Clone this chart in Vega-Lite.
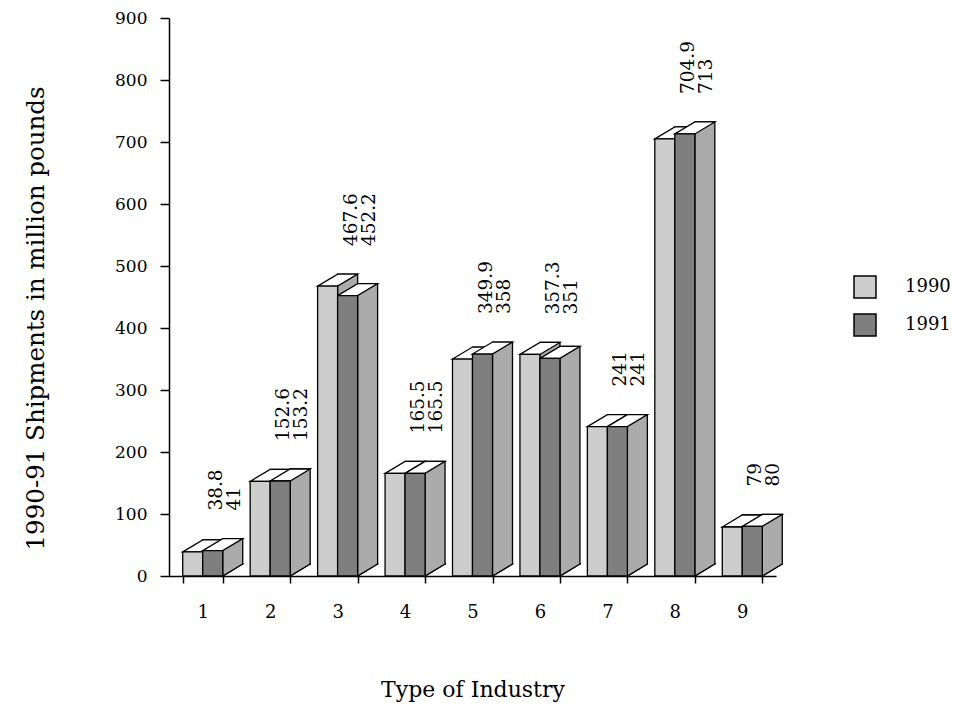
{
  "$schema": "https://vega.github.io/schema/vega-lite/v6.json",
  "width": 607,
  "height": 558,
  "autosize": {"type": "none"},
  "padding": {"left": 169, "top": 18, "right": 177, "bottom": 129},
  "background": "white",
  "config": {
    "font": "DejaVu Serif",
    "view": {"stroke": null},
    "axis": {"domainColor": "black", "tickColor": "black", "labelColor": "black", "titleColor": "black", "domainWidth": 1.5, "tickWidth": 1.5, "grid": false}
  },
  "data": {
    "values": [
      {"industry": "1", "year": "1990", "value": 38.8},
      {"industry": "1", "year": "1991", "value": 41},
      {"industry": "2", "year": "1990", "value": 152.6},
      {"industry": "2", "year": "1991", "value": 153.2},
      {"industry": "3", "year": "1990", "value": 467.6},
      {"industry": "3", "year": "1991", "value": 452.2},
      {"industry": "4", "year": "1990", "value": 165.5},
      {"industry": "4", "year": "1991", "value": 165.5},
      {"industry": "5", "year": "1990", "value": 349.9},
      {"industry": "5", "year": "1991", "value": 358},
      {"industry": "6", "year": "1990", "value": 357.3},
      {"industry": "6", "year": "1991", "value": 351},
      {"industry": "7", "year": "1990", "value": 241},
      {"industry": "7", "year": "1991", "value": 241},
      {"industry": "8", "year": "1990", "value": 704.9},
      {"industry": "8", "year": "1991", "value": 713},
      {"industry": "9", "year": "1990", "value": 79},
      {"industry": "9", "year": "1991", "value": 80}
    ]
  },
  "encoding": {
    "x": {
      "field": "industry",
      "type": "ordinal",
      "scale": {"paddingInner": 0.4069, "paddingOuter": 0.2035},
      "axis": {
        "title": "Type of Industry",
        "labelAngle": 0,
        "tickBand": "extent",
        "tickSize": 7,
        "labelPadding": 20,
        "labelFontSize": 18,
        "titleFontSize": 22,
        "titleFontWeight": "normal",
        "titlePadding": 58
      }
    }
  },
  "resolve": {"scale": {"xOffset": "independent"}, "legend": {"shape": "independent", "fill": "independent"}},
  "layer": [
    {
      "mark": {"type": "bar", "fill": "#ababab", "stroke": "black", "strokeWidth": 1.3, "yOffset": -12, "y2Offset": -12},
      "encoding": {
        "xOffset": {"field": "year", "type": "nominal", "scale": {"range": [20, 60], "paddingInner": 0, "paddingOuter": 0}},
        "y": {
          "field": "value",
          "type": "quantitative",
          "scale": {"domain": [0, 900], "nice": false},
          "axis": {
            "title": "1990-91 Shipments in million pounds",
            "values": [0, 50, 100, 150, 200, 250, 300, 350, 400, 450, 500, 550, 600, 650, 700, 750, 800, 850, 900],
            "labelExpr": "datum.value % 100 === 0 ? datum.label : ''",
            "tickSize": {"condition": {"test": "datum.value % 100 === 0", "value": 9}, "value": 4},
            "labelPadding": 13,
            "labelFontSize": 17,
            "titleFontSize": 24.5,
            "titleFontWeight": "normal",
            "titlePadding": 66,
            "titleY": 300
          }
        }
      }
    },
    {
      "mark": {"type": "point", "shape": "M 20 -13 L 20 0 L 40 -12 L 40 -13", "size": 4, "filled": true, "fill": "#ababab", "stroke": "black", "strokeWidth": 1.3, "opacity": 1},
      "encoding": {
        "y": {"datum": 0, "type": "quantitative"}
      }
    },
    {
      "transform": [{"calculate": "datum.year", "as": "face"}],
      "mark": {"type": "point", "size": 4, "filled": true, "fill": "white", "stroke": "black", "strokeWidth": 1.3, "opacity": 1},
      "encoding": {
        "y": {"field": "value", "type": "quantitative"},
        "shape": {
          "field": "face",
          "type": "nominal",
          "scale": {"domain": ["1990", "1991"], "range": ["M -20 0 L 0 0 L 20 -12 L 0 -12 Z", "M 0 0 L 20 0 L 40 -12 L 20 -12 Z"]},
          "legend": null
        }
      }
    },
    {
      "mark": {"type": "bar", "stroke": "black", "strokeWidth": 1.3},
      "encoding": {
        "xOffset": {"field": "year", "type": "nominal", "scale": {"paddingInner": 0, "paddingOuter": 0}},
        "y": {"field": "value", "type": "quantitative"},
        "fill": {
          "field": "year",
          "type": "nominal",
          "scale": {"domain": ["1990", "1991"], "range": ["#cdcdcd", "#7f7f7f"]},
          "legend": {
            "title": null,
            "orient": "none",
            "legendX": 684,
            "legendY": 257,
            "symbolType": "square",
            "symbolSize": 484,
            "symbolStrokeColor": "black",
            "symbolStrokeWidth": 1.5,
            "symbolOpacity": 1,
            "labelFontSize": 18,
            "labelColor": "black",
            "labelOffset": 28,
            "rowPadding": 10,
            "padding": 0
          }
        }
      }
    },
    {
      "transform": [
        {"pivot": "year", "value": "value", "groupby": ["industry"]},
        {"calculate": "max(datum['1990'], datum['1991'])", "as": "top"},
        {"calculate": "[''+datum['1990'], ''+datum['1991']]", "as": "label"}
      ],
      "mark": {"type": "text", "angle": 270, "align": "left", "baseline": "middle", "dx": 40, "dy": 13, "fontSize": 18.5, "lineHeight": 18, "color": "black"},
      "encoding": {
        "y": {"field": "top", "type": "quantitative"},
        "text": {"field": "label"}
      }
    }
  ]
}
